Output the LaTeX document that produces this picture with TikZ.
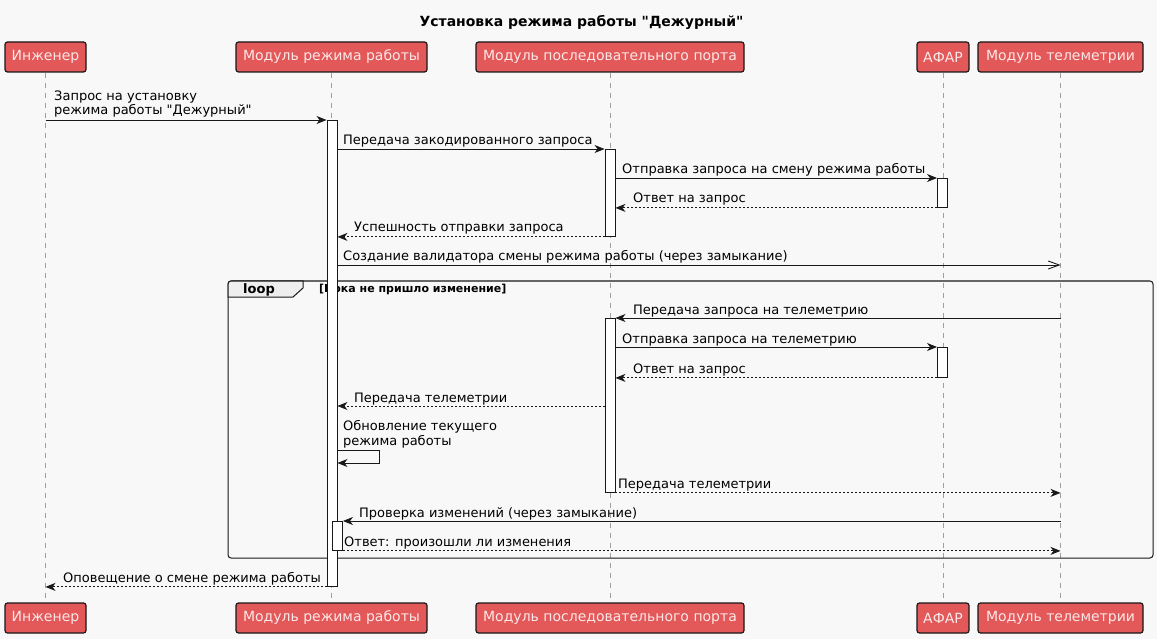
\documentclass[tikz,border=0pt]{standalone}
\usepackage{fontspec}
\setmainfont{DejaVu Sans}[Ligatures=TeXOff]
\usetikzlibrary{arrows.meta,calc,positioning}
\definecolor{partfill}{RGB}{227,88,88}
\definecolor{parttext}{RGB}{252,232,232}
\definecolor{linedark}{HTML}{181818}
\definecolor{bgcol}{HTML}{F8F8F8}
\definecolor{tabfill}{HTML}{EEEEEE}
\tikzset{
	part/.style={draw=linedark,fill=partfill,text=parttext,line width=1.2pt,
		rounded corners=2.5pt,minimum height=30,inner sep=0pt,
		font=\fontsize{14}{16}\selectfont},
	life/.style={draw=gray!75,line width=.8pt,dash pattern=on 5pt off 5pt},
	act/.style={draw=linedark,fill=white,line width=.9pt,minimum width=10,
		inner sep=0pt,anchor=north},
	msg/.style={draw=linedark,line width=.9pt,-{Stealth[length=10pt,width=8pt,inset=3pt]}},
	ret/.style={msg,dash pattern=on 2pt off 2pt},
	async/.style={draw=linedark,line width=.9pt,-{Straight Barb[length=11pt,width=8pt]}},
	lbl/.style={anchor=base west,inner sep=0pt,font=\fontsize{13}{14.5}\selectfont,align=left}
}

\begin{document}
\begin{tikzpicture}[x=1pt,y=-1pt]
  \fill[bgcol] (0,0) rectangle (1157,639);
  \useasboundingbox (0,0) rectangle (1157,639);
  \node[font=\bfseries\fontsize{14}{16}\selectfont,anchor=base] (title) at (581.5,27) {Установка режима работы "Дежурный"};
  % participants, top and bottom
  \foreach \n/\x/\w/\t in {ing/45.5/81/Инженер, mod/331.5/191/Модуль режима работы,
      port/610/268/Модуль последовательного порта, afar/943/52/АФАР, tel/1060.5/165/Модуль телеметрии} {
    \node[part,minimum width=\w] (\n T) at (\x,57) {\t};
    \node[part,minimum width=\w] (\n B) at (\x,618) {\t};
    \draw[life] (\n T.south) -- (\n B.north);
  }
  % loop frame
  \draw[draw=linedark,line width=1pt,rounded corners=3pt] (228,281) rectangle (1153,558);
  \draw[draw=linedark,fill=tabfill,line width=1pt] (228,297) -- (228,284) [rounded corners=3pt] -- (228,281) [sharp corners] -- (303,281) -- (303,288) -- (293,297) -- cycle;
  \node[anchor=base west,inner sep=0pt,font=\bfseries\fontsize{13}{15}\selectfont] (loop) at (243,293) {loop};
  \node[anchor=base west,inner sep=0pt,font=\bfseries\fontsize{11}{13}\selectfont] (cond) at (319,292.5) {[Пока не пришло изменение]};
  % activations
  \node[act,minimum height=466] (a1) at (332,120) {};
  \node[act,minimum height=87] (a2) at (610,149) {};
  \node[act,minimum height=29] (a3) at (942.5,178) {};
  \node[act,minimum height=174] (a4) at (610,318) {};
  \node[act,minimum height=30] (a5) at (942.5,347) {};
  \node[act,minimum height=29] (a6) at (337.5,521) {};
  \coordinate (r7) at (0,265);
  \coordinate (r10) at (0,406);
  \coordinate (r11) at (0,450);
  \coordinate (r11b) at (0,463);
  % messages
  \draw[msg] (ingT |- a1.north) -- (a1.north west);
  \draw[msg] (a1.east |- a2.north) -- (a2.north west);
  \draw[msg] (a2.east |- a3.north) -- (a3.north west);
  \draw[ret] (a3.south west) -- (a2.east |- a3.south);
  \draw[ret] (a2.south west) -- (a1.east |- a2.south);
  \draw[async] (a1.east |- r7) -- (telT |- r7);
  \draw[msg] (telT |- a4.north) -- (a4.north east);
  \draw[msg] (a4.east |- a5.north) -- (a5.north west);
  \draw[ret] (a5.south west) -- (a4.east |- a5.south);
  \draw[ret] (a4.west |- r10) -- (a1.east |- r10);
  \draw[msg] (a1.east |- r11) -- ++(42,0) |- (a1.east |- r11b);
  \draw[ret] (a4.south east) -- (telT |- a4.south);
  \draw[msg] (telT |- a6.north) -- (a6.north east);
  \draw[ret] (a6.south east) -- (telT |- a6.south);
  \draw[ret] (a1.south west) -- (ingT |- a1.south);
  % labels
  \node[lbl] (l1) at (54,115) {Запрос на установку\\режима работы "Дежурный"};
  \node[lbl] (l2) at (343,145) {Передача закодированного запроса};
  \node[lbl] (l3) at (622,174) {Отправка запроса на смену режима работы};
  \node[lbl] (l4) at (633,203) {Ответ на запрос};
  \node[lbl] (l5) at (354,232) {Успешность отправки запроса};
  \node[lbl] (l6) at (343,261) {Создание валидатора смены режима работы (через замыкание)};
  \node[lbl] (l7) at (633,314) {Передача запроса на телеметрию};
  \node[lbl] (l8) at (622,343) {Отправка запроса на телеметрию};
  \node[lbl] (l9) at (633,373) {Ответ на запрос};
  \node[lbl] (l10) at (354,402) {Передача телеметрии};
  \node[lbl] (l11) at (343,445) {Обновление текущего\\режима работы};
  \node[lbl] (l12) at (618,488) {Передача телеметрии};
  \node[lbl] (l13) at (359,517) {Проверка изменений (через замыкание)};
  \node[lbl] (l14) at (344,546) {Ответ: произошли ли изменения};
  \node[lbl] (l15) at (63,582) {Оповещение о смене режима работы};
\end{tikzpicture}
\end{document}
